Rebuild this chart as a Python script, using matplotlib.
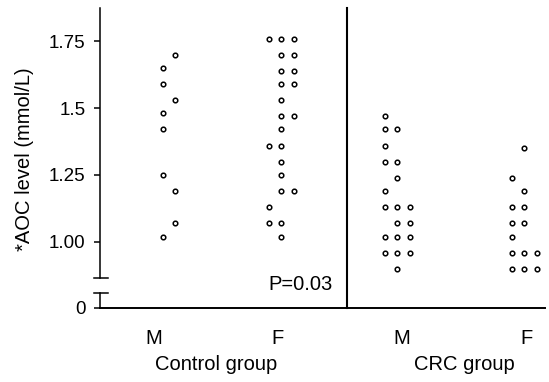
import numpy as np
import matplotlib
matplotlib.use('Agg')
from matplotlib import pyplot as plt

plt.rcParams['font.family'] = ['Liberation Sans', 'DejaVu Sans']

## AOC values, with the column each dot sits in
ctrl_m_vals = [1.70, 1.65, 1.59, 1.53, 1.48, 1.42, 1.25, 1.19, 1.07, 1.02]
ctrl_m_cols = [1, 0, 0, 1, 0, 0, 0, 1, 1, 0]

ctrl_f_vals = [1.76, 1.76, 1.76, 1.70, 1.70, 1.64, 1.64, 1.59, 1.59, 1.53,
               1.47, 1.47, 1.42, 1.36, 1.36, 1.30, 1.25, 1.19, 1.19, 1.13,
               1.07, 1.07, 1.02]
ctrl_f_cols = [0, 1, 2, 1, 2, 1, 2, 1, 2, 1,
               1, 2, 1, 0, 1, 1, 1, 1, 2, 0,
               0, 1, 1]

crc_m_vals = [1.47, 1.42, 1.42, 1.36, 1.30, 1.30, 1.24, 1.19, 1.13, 1.13,
              1.13, 1.07, 1.07, 1.02, 1.02, 1.02, 0.96, 0.96, 0.96, 0.90]
crc_m_cols = [0, 0, 1, 0, 0, 1, 1, 0, 0, 1,
              2, 1, 2, 0, 1, 2, 0, 1, 2, 1]

crc_f_vals = [1.35, 1.24, 1.19, 1.13, 1.13, 1.07, 1.07, 1.02, 0.96, 0.96,
              0.96, 0.90, 0.90, 0.90]
crc_f_cols = [1, 0, 1, 0, 1, 0, 1, 0, 0, 1,
              2, 0, 1, 2]

sex_labels = ['M', 'F', 'M', 'F']
group_labels = ['Control group', 'CRC group']
p_text = 'P=0.03'

groups = [(ctrl_m_vals, ctrl_m_cols), (ctrl_f_vals, ctrl_f_cols),
          (crc_m_vals, crc_m_cols), (crc_f_vals, crc_f_cols)]
col_start = [0.073, -0.073, -0.137, -0.113]
col_step = 0.1

W, H = 549, 382
fig = plt.figure(figsize=(W / 100, H / 100), dpi=100)

def rect(left, top, right, bottom):
    return [left / W, 1 - bottom / H, (right - left) / W, (bottom - top) / H]

ax = fig.add_axes(rect(100, 8, 545, 278))       # upper part of broken axis
ax0 = fig.add_axes(rect(100, 293, 545, 308), sharex=ax)  # the zero stub
ax0.patch.set_visible(False)

ax.set_xlim(-0.435, 3.153)
ax.set_ylim(0.865, 1.874)
ax0.set_ylim(0, 0.056)

for i, (vals, cols) in enumerate(groups):
    x = i + col_start[i] + col_step * np.array(cols)
    ax.plot(x, vals, 'o', ms=3.3, mfc='white', mec='black', mew=1.1,
            clip_on=False)

lw = 1.1
for a in (ax, ax0):
    for s in ('top', 'right'):
        a.spines[s].set_visible(False)
    a.spines['left'].set_linewidth(lw)
    a.tick_params(axis='y', length=4.5, width=lw, pad=6, labelsize=13.5)
ax.spines['bottom'].set_visible(False)
ax.tick_params(axis='x', bottom=False, labelbottom=False)
ax.set_yticks([1.00, 1.25, 1.5, 1.75])
ax.set_yticklabels(['1.00', '1.25', '1.5', '1.75'])

ax0.spines['bottom'].set_linewidth(1.4)
ax0.set_yticks([0])
ax0.set_yticklabels(['0'])
ax0.set_xticks(range(4))
ax0.set_xticklabels(sex_labels, fontsize=14.5)
ax0.tick_params(axis='x', length=0, pad=15)

# break caps
cap = [-6 / 445, 8 / 445]
ax.plot(cap, [0, 0], color='black', lw=lw, transform=ax.transAxes, clip_on=False)
ax0.plot(cap, [1, 1], color='black', lw=lw, transform=ax0.transAxes, clip_on=False)

# divider between groups, running down to the x axis
ax.axvline(1.556, ymin=-30 / 270, ymax=1, color='black', lw=1.5, clip_on=False)

ax.annotate(p_text, xy=(1.444, 0), xycoords=('data', 'axes fraction'),
            xytext=(0, -5), textcoords='offset points',
            ha='right', va='center', fontsize=14.5)

for j, lab in enumerate(group_labels):
    ax0.annotate(lab, xy=(2 * j + 0.5, 0), xycoords=('data', 'axes fraction'),
                 xytext=(0, -57 * 0.72), textcoords='offset points',
                 ha='center', va='center', fontsize=14.5)

fig.text(25 / W, 1 - 159 / H, '*AOC level (mmol/L)', rotation=90,
         ha='center', va='center', fontsize=14.5)

fig.savefig('out.png', dpi=100)
